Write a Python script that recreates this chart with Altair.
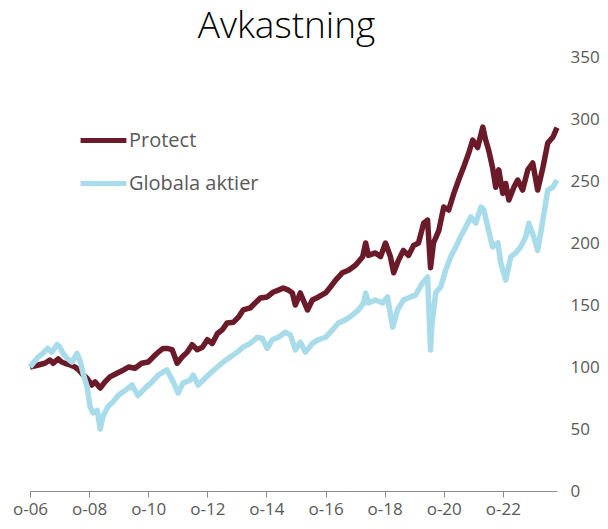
import altair as alt
import pandas as pd

series_names = ["Protect", "Globala aktier"]
series_colors = ["#6b1a2a", "#a8dcea"]

protect_dates = [
    "2006-10-01", "2007-01-12", "2007-04-03", "2007-06-04", "2007-07-15", "2007-09-15",
    "2007-10-27", "2007-12-07", "2008-02-09", "2008-04-09", "2008-05-19", "2008-07-21",
    "2008-09-03", "2008-11-03", "2008-12-13", "2009-02-15", "2009-04-15", "2009-06-15",
    "2009-09-09", "2009-12-01", "2010-02-01", "2010-04-21", "2010-07-12", "2010-10-01",
    "2010-12-01", "2011-02-03", "2011-04-03", "2011-05-21", "2011-07-24", "2011-09-24",
    "2011-11-24", "2012-01-27", "2012-03-27", "2012-05-27", "2012-08-01", "2012-10-01",
    "2012-12-01", "2013-02-03", "2013-04-03", "2013-06-03", "2013-08-18", "2013-10-18",
    "2013-12-18", "2014-03-15", "2014-05-15", "2014-07-18", "2014-10-12", "2014-12-27",
    "2015-02-27", "2015-04-27", "2015-07-01", "2015-08-18", "2015-09-24", "2015-11-24",
    "2016-02-21", "2016-04-21", "2016-07-06", "2016-10-01", "2016-12-01", "2017-02-03",
    "2017-04-27", "2017-07-12", "2017-10-06", "2018-01-03", "2018-02-09", "2018-03-15",
    "2018-06-09", "2018-08-12", "2018-10-12", "2018-12-12", "2019-01-21", "2019-03-21",
    "2019-05-21", "2019-07-24", "2019-09-24", "2019-11-24", "2020-01-27", "2020-03-15",
    "2020-04-21", "2020-05-27", "2020-08-01", "2020-10-01", "2020-12-01", "2021-02-03",
    "2021-04-03", "2021-06-03", "2021-08-06", "2021-09-24", "2021-11-24", "2022-01-27",
    "2022-03-03", "2022-04-09", "2022-05-27", "2022-07-06", "2022-08-12", "2022-10-01",
    "2022-11-06", "2022-12-15", "2023-02-15", "2023-04-03", "2023-06-03", "2023-08-06",
    "2023-10-06", "2023-12-06", "2024-02-09", "2024-04-09", "2024-06-12", "2024-08-01",
]
protect_values = [
    100, 101.6, 103, 105.6, 103, 106.5,
    104, 103, 101.6, 100, 98, 93.5,
    91, 85.5, 88, 83, 88, 92,
    95, 97.6, 100, 99, 103, 104,
    108, 112, 115, 115, 114, 103,
    108, 112, 118, 114, 116, 122,
    119, 127, 130, 135.5, 136, 140,
    146, 147.6, 151.6, 155.6, 156.5, 160.5,
    162, 163.7, 162, 159.7, 150, 159.7,
    146, 154, 156.5, 159.7, 164.5, 170,
    176, 178, 182, 189, 200, 190,
    192, 189, 200, 189, 176, 186,
    194, 190, 198, 200, 216, 218.5,
    180, 200, 210, 229, 226.6, 240,
    250.8, 261, 272.6, 283, 277, 293.5,
    283, 275, 261, 245, 259, 240,
    248, 234.7, 245, 250.8, 242.7, 259,
    264.5, 242.7, 261, 280.6, 285.5, 293,
]

global_dates = [
    "2006-10-01", "2007-01-09", "2007-03-09", "2007-05-09", "2007-06-27", "2007-09-01",
    "2007-10-06", "2007-11-12", "2008-01-03", "2008-03-03", "2008-05-03", "2008-06-09",
    "2008-07-18", "2008-09-06", "2008-10-12", "2008-11-18", "2009-01-09", "2009-02-15",
    "2009-03-21", "2009-05-21", "2009-07-24", "2009-09-24", "2009-12-18", "2010-03-15",
    "2010-05-27", "2010-08-24", "2010-11-18", "2011-02-03", "2011-04-03", "2011-05-21",
    "2011-08-06", "2011-10-06", "2011-12-06", "2012-03-03", "2012-04-09", "2012-06-09",
    "2012-08-12", "2012-11-06", "2013-02-03", "2013-04-15", "2013-07-12", "2013-10-06",
    "2013-12-18", "2014-03-15", "2014-06-09", "2014-08-12", "2014-10-12", "2014-12-12",
    "2015-02-27", "2015-05-21", "2015-07-24", "2015-09-24", "2015-11-24", "2016-01-27",
    "2016-04-21", "2016-07-06", "2016-10-01", "2016-12-27", "2017-03-09", "2017-06-03",
    "2017-09-01", "2017-11-12", "2018-01-15", "2018-02-09", "2018-03-15", "2018-06-09",
    "2018-09-06", "2018-11-06", "2019-01-09", "2019-03-09", "2019-05-21", "2019-08-18",
    "2019-10-18", "2020-01-15", "2020-03-15", "2020-04-21", "2020-05-09", "2020-06-24",
    "2020-08-24", "2020-10-24", "2020-12-27", "2021-02-27", "2021-04-27", "2021-07-01",
    "2021-09-01", "2021-11-01", "2022-01-03", "2022-02-09", "2022-04-09", "2022-05-27",
    "2022-08-01", "2022-09-06", "2022-11-06", "2023-01-09", "2023-03-09", "2023-05-09",
    "2023-07-12", "2023-08-18", "2023-10-18", "2023-12-06", "2024-02-09", "2024-04-09",
    "2024-06-12", "2024-08-01",
]
global_values = [
    100, 108, 111, 115, 112, 118,
    116, 111, 107, 104, 111, 105.6,
    95, 84, 68, 63, 65, 50,
    60, 68, 72, 77, 81, 85.5,
    77, 83, 88, 93.5, 96, 97.6,
    88, 79, 87, 89.5, 93.5, 85.5,
    89.5, 95, 100, 104, 108, 112,
    116, 119, 124, 123, 115, 122,
    124, 128, 126, 113.7, 120, 112,
    119, 122, 124, 130, 135.5, 138,
    142, 146, 151.6, 159.7, 151.6, 154,
    151.6, 156.5, 132, 146, 154, 156.5,
    158, 168, 172.6, 113.7, 135, 160,
    164.5, 178, 189, 196.8, 205, 213,
    221, 216, 229, 226.6, 210, 196.8,
    200, 184, 170, 189, 192, 196.8,
    205, 216, 205, 194, 218.5, 242.7,
    245, 250.8,
]

y_ticks = [0, 50, 100, 150, 200, 250, 300, 350]
x_tick_years = [2006, 2008, 2010, 2012, 2014, 2016, 2018, 2020, 2022]

df = pd.concat([
    pd.DataFrame({"datum": protect_dates, "varde": protect_values, "serie": series_names[0]}),
    pd.DataFrame({"datum": global_dates, "varde": global_values, "serie": series_names[1]}),
], ignore_index=True)

label_font = "Open Sans"
label_color = "#595959"

x_enc = alt.X(
    "datum:T",
    scale=alt.Scale(
        type="utc",
        domain=[alt.DateTime(year=2006, month=10, date=1, utc=True),
                alt.DateTime(year=2024, month=8, date=1, utc=True)],
    ),
    axis=alt.Axis(
        title=None,
        values=[alt.DateTime(year=y, month=10, date=1, utc=True) for y in x_tick_years],
        labelExpr="'o-' + utcFormat(datum.value, '%y')",
        grid=False,
        domainColor="#8c8c8c",
        tickColor="#8c8c8c",
        tickSize=6,
        labelFont=label_font,
        labelFontSize=17,
        labelColor=label_color,
        labelBaseline="alphabetic",
        labelPadding=17,
        labelFlush=False,
        labelOverlap=False,
    ),
)
y_enc = alt.Y(
    "varde:Q",
    scale=alt.Scale(domain=[0, 350], nice=False),
    axis=alt.Axis(
        title=None,
        orient="right",
        values=y_ticks,
        grid=False,
        domain=False,
        ticks=False,
        labelFont=label_font,
        labelFontSize=17,
        labelColor=label_color,
        labelPadding=13,
        labelAlign="left",
    ),
)
color_enc = alt.Color(
    "serie:N",
    scale=alt.Scale(domain=series_names, range=series_colors),
    legend=alt.Legend(
        title=None,
        orient="none",
        legendX=48,
        legendY=58,
        symbolType="stroke",
        symbolStrokeWidth=5,
        symbolSize=2100,
        labelFont=label_font,
        labelFontSize=20,
        labelColor=label_color,
        labelOffset=0,
        rowPadding=7,
    ),
)

base = alt.Chart(df).encode(x=x_enc, y=y_enc, color=color_enc)
protect_line = base.transform_filter(alt.datum.serie == series_names[0]).mark_line(strokeWidth=5.5, strokeJoin="round")
global_line = base.transform_filter(alt.datum.serie == series_names[1]).mark_line(strokeWidth=5.5, strokeJoin="round")

chart = alt.layer(protect_line, global_line).properties(
    width=527,
    height=434,
    title=alt.TitleParams(
        "Avkastning",
        font="Open Sans",
        fontSize=37,
        fontWeight=300,
        color="#000000",
        anchor="middle",
        dx=-7,
        offset=2,
    ),
    autosize=alt.AutoSizeParams(type="none"),
    padding={"left": 22, "top": 49, "right": 43, "bottom": 30},
).configure_view(stroke=None)

chart.save("out.html", embed_options={"renderer": "svg", "actions": False})
